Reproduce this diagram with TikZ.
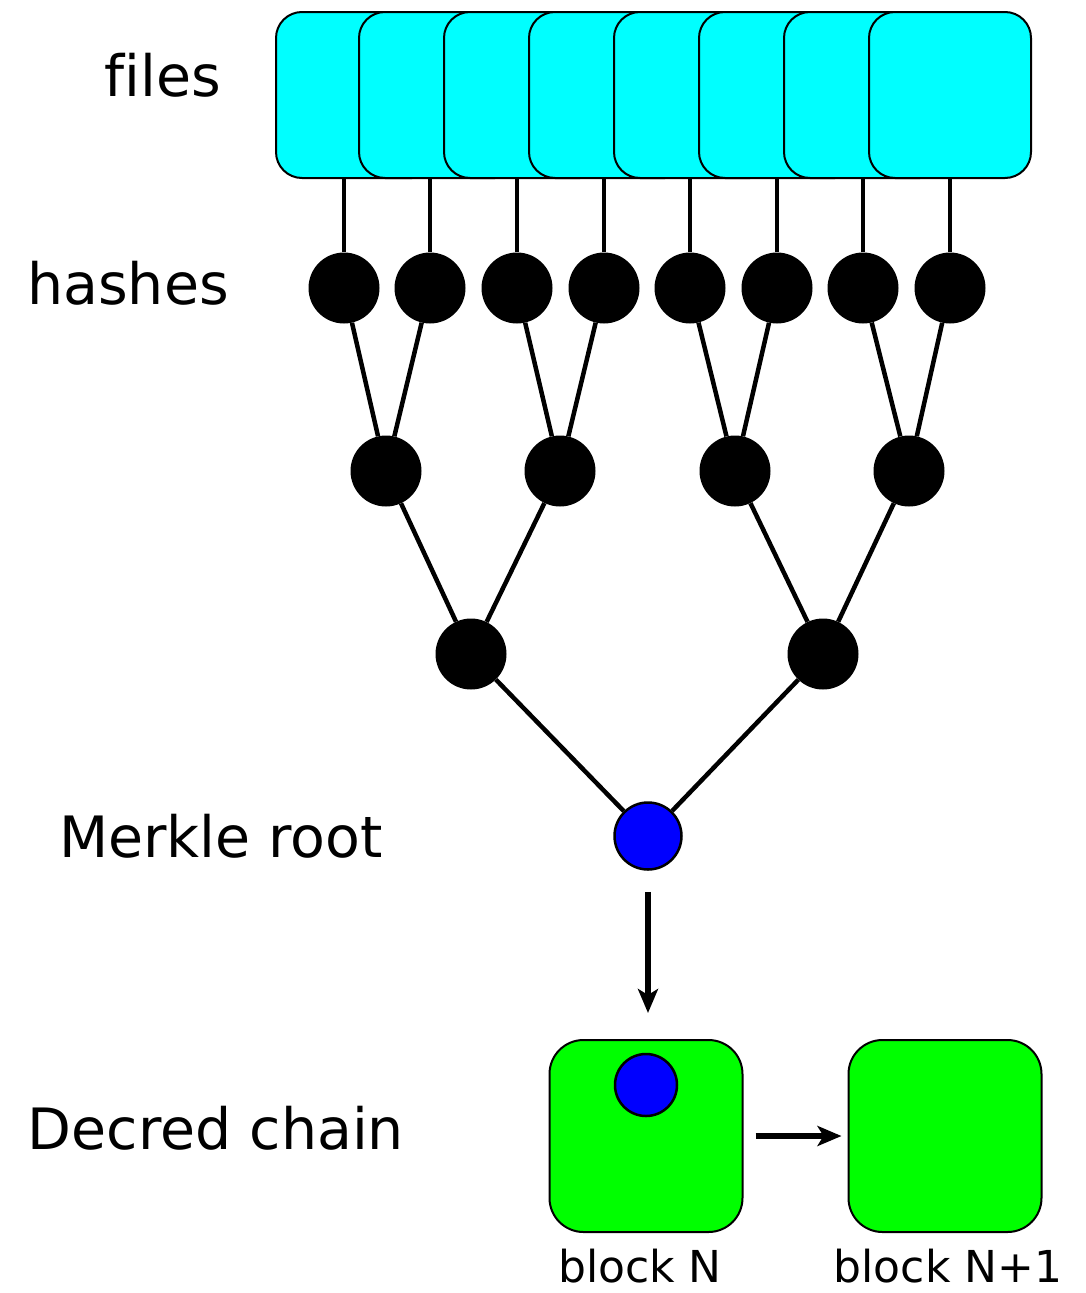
\documentclass[tikz,border=0pt]{standalone}
\usepackage{fontspec}
\setmainfont{DejaVu Sans}
\usetikzlibrary{arrows.meta}
\definecolor{filecyan}{RGB}{0,255,255}
\definecolor{blockgreen}{RGB}{0,255,0}
\definecolor{rootblue}{RGB}{0,0,255}
\begin{document}
\begin{tikzpicture}[x=1pt,y=-1pt,
  card/.style={draw=black, line width=2pt, fill=filecyan, rounded corners=26pt, minimum width=162pt, minimum height=166pt, inner sep=0pt, anchor=north west},
  hnode/.style={circle, fill=black, minimum size=71pt, inner sep=0pt},
  rootnode/.style={circle, fill=rootblue, draw=black, line width=2.5pt, minimum size=67pt, inner sep=0pt},
  blk/.style={draw=black, line width=2pt, fill=blockgreen, rounded corners=34pt, minimum width=193pt, minimum height=192pt, inner sep=0pt},
  edge/.style={line width=4.5pt},
  arr/.style={line width=6pt, -{Stealth[length=24pt,width=20pt,inset=6pt]}},
  lbl/.style={font=\fontsize{57}{60}\selectfont},
  sublbl/.style={font=\fontsize{44}{48}\selectfont, inner sep=0pt}
]
\useasboundingbox (0,0) rectangle (1085,1293);
% files
\foreach \i/\x in {1/275,2/358,3/443,4/528,5/613,6/698,7/783,8/868} {
  \node[card] (f\i) at (\x,11) {};
}
% hashes
\foreach \i/\x in {1/344,2/430,3/517,4/604,5/690,6/777,7/863,8/950} {
  \node[hnode] (h\i) at (\x,288) {};
  \draw[edge] (h\i.north) -- (h\i.north |- f1.south);
}
% level 2
\node[hnode] (a1) at (386,471) {};
\node[hnode] (a2) at (560,471) {};
\node[hnode] (a3) at (735,471) {};
\node[hnode] (a4) at (909,471) {};
% level 3
\node[hnode] (b1) at (471,654) {};
\node[hnode] (b2) at (823,654) {};
% root
\node[rootnode] (r) at (648,836) {};
\draw[edge] (h1) -- (a1); \draw[edge] (h2) -- (a1);
\draw[edge] (h3) -- (a2); \draw[edge] (h4) -- (a2);
\draw[edge] (h5) -- (a3); \draw[edge] (h6) -- (a3);
\draw[edge] (h7) -- (a4); \draw[edge] (h8) -- (a4);
\draw[edge] (a1) -- (b1); \draw[edge] (a2) -- (b1);
\draw[edge] (a3) -- (b2); \draw[edge] (a4) -- (b2);
\draw[edge] (b1) -- (r); \draw[edge] (b2) -- (r);
% blocks
\node[blk] (bn) at (646,1136) {};
\node[blk] (bn1) at (945,1136) {};
\node[rootnode, minimum size=62pt] (inner) at (646,1085) {};
\coordinate (arrend) at (648,1013);
\draw[arr] ([yshift=-21pt]r.south) -- (arrend);
\draw[arr] ([xshift=12pt]bn.east) -- ([xshift=-6pt]bn1.west);
% labels
\node[lbl] (tfiles) at (163,75) {f\kern0pt iles};
\node[lbl] (thash) at (128,283) {hashes};
\node[lbl] (troot) at (221,836) {Merkle root};
\node[lbl] (tchain) at (216,1128) {Decred chain};
\node[sublbl] (tbn) at (640,1266) {block N};
\node[sublbl] (tbn1) at (948,1266) {block N+1};
\end{tikzpicture}
\end{document}
